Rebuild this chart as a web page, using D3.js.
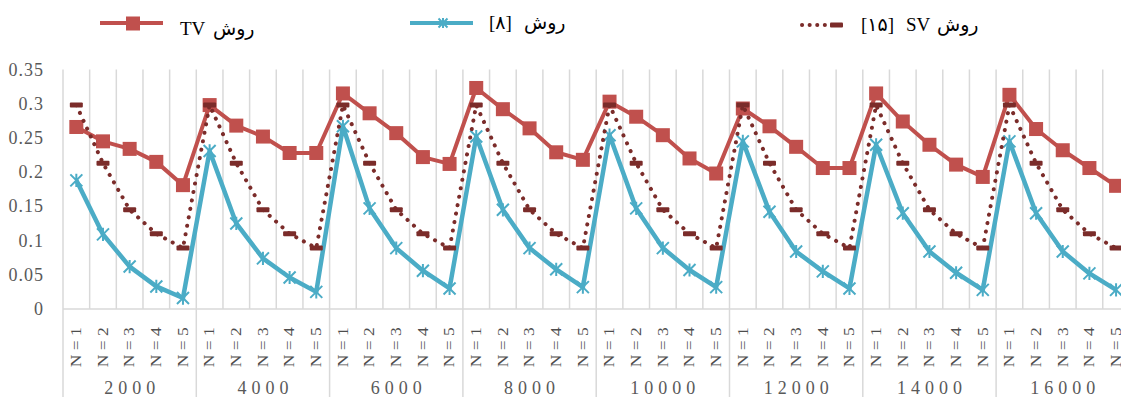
<!DOCTYPE html>
<html>
<head>
<meta charset="utf-8">
<script src="https://cdn.jsdelivr.net/npm/d3@7"></script>
<style>
  html, body { margin: 0; padding: 0; background: #fff; overflow: hidden; }
  text { font-family: "Liberation Serif", "DejaVu Serif", "DejaVu Sans", serif; }
</style>
</head>
<body>
<div id="chart"></div>
<script>
// categories
const groups = ['2000', '4000', '6000', '8000', '10000', '12000', '14000', '16000'];
const levels = ['N=1', 'N=2', 'N=3', 'N=4', 'N=5'];
const yTicks = [0, 0.05, 0.1, 0.15, 0.2, 0.25, 0.3, 0.35];

// series values, 5 per group
const tvValues = [
  0.266, 0.245, 0.234, 0.215, 0.181,
  0.298, 0.268, 0.252, 0.228, 0.228,
  0.315, 0.286, 0.257, 0.222, 0.212,
  0.323, 0.292, 0.264, 0.229, 0.218,
  0.303, 0.281, 0.254, 0.220, 0.198,
  0.293, 0.267, 0.237, 0.206, 0.206,
  0.315, 0.274, 0.240, 0.211, 0.193,
  0.313, 0.263, 0.232, 0.206, 0.180
];
const ref8Values = [
  0.188, 0.109, 0.062, 0.033, 0.016,
  0.231, 0.125, 0.074, 0.046, 0.025,
  0.267, 0.147, 0.089, 0.056, 0.030,
  0.252, 0.145, 0.089, 0.058, 0.032,
  0.254, 0.147, 0.089, 0.057, 0.032,
  0.245, 0.142, 0.084, 0.055, 0.030,
  0.240, 0.140, 0.084, 0.053, 0.028,
  0.245, 0.140, 0.084, 0.052, 0.028
];
const svValues = [
  0.298, 0.213, 0.145, 0.110, 0.089,
  0.298, 0.213, 0.145, 0.110, 0.089,
  0.298, 0.213, 0.145, 0.110, 0.089,
  0.298, 0.213, 0.145, 0.110, 0.089,
  0.298, 0.213, 0.145, 0.110, 0.089,
  0.298, 0.213, 0.145, 0.110, 0.089,
  0.298, 0.213, 0.145, 0.110, 0.089,
  0.298, 0.213, 0.145, 0.110, 0.089
];

// legend labels, split into their visual pieces (left to right)
const legendParts = [
  ['TV', 'روش'],
  ['[۸]', 'روش'],
  ['[۱۵]', 'SV', 'روش']
];

const width = 1121, height = 397;
const plotLeft = 63, plotTop = 69.5, plotBottom = 309;
const catWidth = 26.66;

const keys = [];
groups.forEach(g => levels.forEach(l => keys.push(g + '|' + l)));

const svg = d3.select('#chart').append('svg')
  .attr('width', width)
  .attr('height', height);

const x = d3.scaleBand().domain(keys).range([plotLeft, plotLeft + keys.length * catWidth]);
const y = d3.scaleLinear().domain([0, 0.35]).range([plotBottom, plotTop]);
const cx = i => x(keys[i]) + x.bandwidth() / 2;

const gridColor = '#d9d9d9';
const textColor = '#595959';

// vertical grid lines at category boundaries
const bounds = d3.range(keys.length + 1).map(i => plotLeft + i * x.bandwidth());
svg.append('g').selectAll('line')
  .data(bounds)
  .join('line')
  .attr('x1', d => d).attr('x2', d => d)
  .attr('y1', plotTop)
  .attr('y2', (d, i) => i % 5 === 0 ? height : plotBottom)
  .attr('stroke', gridColor)
  .attr('stroke-width', 1.5);

// category axis line
svg.append('line')
  .attr('x1', plotLeft).attr('x2', plotLeft + keys.length * catWidth)
  .attr('y1', plotBottom).attr('y2', plotBottom)
  .attr('stroke', gridColor)
  .attr('stroke-width', 1.5);

// y axis labels
svg.append('g').selectAll('text')
  .data(yTicks)
  .join('text')
  .attr('x', 44)
  .attr('y', d => y(d) + 6)
  .attr('text-anchor', 'end')
  .attr('font-size', 18)
  .attr('letter-spacing', 1)
  .attr('fill', textColor)
  .text(d => d === 0 ? '0' : String(d));

// inner level labels (rotated, stretched a bit along the text)
svg.append('g').selectAll('text')
  .data(keys)
  .join('text')
  .attr('transform', (d, i) => `translate(${cx(i) + 4.8},345) rotate(-90) scale(1.25,1)`)
  .attr('text-anchor', 'middle')
  .attr('font-size', 14)
  .attr('letter-spacing', 3.5)
  .attr('fill', '#4d4d4d')
  .text(d => d.split('|')[1]);

// outer group labels
svg.append('g').selectAll('text')
  .data(groups)
  .join('text')
  .attr('x', (d, i) => plotLeft + (i * 5 + 2.5) * x.bandwidth() + 2.5)
  .attr('y', 394)
  .attr('text-anchor', 'middle')
  .attr('font-size', 18)
  .attr('letter-spacing', 5)
  .attr('fill', textColor)
  .text(d => d);

const tvColor = '#c0504d';
const blueColor = '#4bacc6';
const svColor = '#7b2c2a';

const line = d3.line().x((d, i) => cx(i)).y(d => y(d));

// TV series
svg.append('path')
  .datum(tvValues)
  .attr('d', line)
  .attr('fill', 'none')
  .attr('stroke', tvColor)
  .attr('stroke-width', 4)
  .attr('stroke-linejoin', 'round');
svg.append('g').selectAll('rect')
  .data(tvValues)
  .join('rect')
  .attr('x', (d, i) => cx(i) - 7)
  .attr('y', d => y(d) - 7)
  .attr('width', 14).attr('height', 14)
  .attr('fill', tvColor);

// [8] series
function star(sel, s) {
  sel.append('path')
    .attr('d', `M${-s},${-s}L${s},${s}M${-s},${s}L${s},${-s}M0,${-s * 1.1}L0,${s * 1.1}`)
    .attr('stroke', blueColor)
    .attr('stroke-width', 2)
    .attr('fill', 'none');
}
svg.append('path')
  .datum(ref8Values)
  .attr('d', line)
  .attr('fill', 'none')
  .attr('stroke', blueColor)
  .attr('stroke-width', 4.5)
  .attr('stroke-linejoin', 'round');
svg.append('g').selectAll('g')
  .data(ref8Values)
  .join('g')
  .attr('transform', (d, i) => `translate(${cx(i)},${y(d)})`)
  .each(function () { star(d3.select(this), 6); });

// SV series
svg.append('path')
  .datum(svValues)
  .attr('d', line)
  .attr('fill', 'none')
  .attr('stroke', svColor)
  .attr('stroke-width', 4)
  .attr('stroke-linecap', 'round')
  .attr('stroke-dasharray', '0.1 8.5');
svg.append('g').selectAll('rect')
  .data(svValues)
  .join('rect')
  .attr('x', (d, i) => cx(i) - 6.5)
  .attr('y', d => y(d) - 2.5)
  .attr('width', 13).attr('height', 5)
  .attr('rx', 1)
  .attr('fill', svColor);

// legend
const lg = svg.append('g');
lg.append('line').attr('x1', 100).attr('x2', 163).attr('y1', 23).attr('y2', 23)
  .attr('stroke', tvColor).attr('stroke-width', 4);
lg.append('rect').attr('x', 126).attr('y', 16.5).attr('width', 14).attr('height', 14).attr('fill', tvColor);

lg.append('line').attr('x1', 410).attr('x2', 473).attr('y1', 23).attr('y2', 23)
  .attr('stroke', blueColor).attr('stroke-width', 4);
star(lg.append('g').attr('transform', 'translate(443,23)'), 4.5);

lg.append('line').attr('x1', 802).attr('x2', 830).attr('y1', 25).attr('y2', 25)
  .attr('stroke', svColor).attr('stroke-width', 4)
  .attr('stroke-linecap', 'round').attr('stroke-dasharray', '0.1 7.5');
lg.append('rect').attr('x', 830).attr('y', 22.5).attr('width', 13).attr('height', 5)
  .attr('rx', 1).attr('fill', svColor);

// piece positions: [x start, baseline] for each piece
const legendPos = [
  [[180, 35], [213, 35]],
  [[489, 29], [524, 29]],
  [[861, 30.5], [906, 30.5], [937, 30.5]]
];
legendParts.forEach((parts, k) => {
  lg.append('g').selectAll('text')
    .data(parts)
    .join('text')
    .attr('x', (d, i) => legendPos[k][i][0])
    .attr('y', (d, i) => legendPos[k][i][1])
    .attr('font-size', 19)
    .attr('fill', '#000')
    .text(d => d);
});
</script>
</body>
</html>
